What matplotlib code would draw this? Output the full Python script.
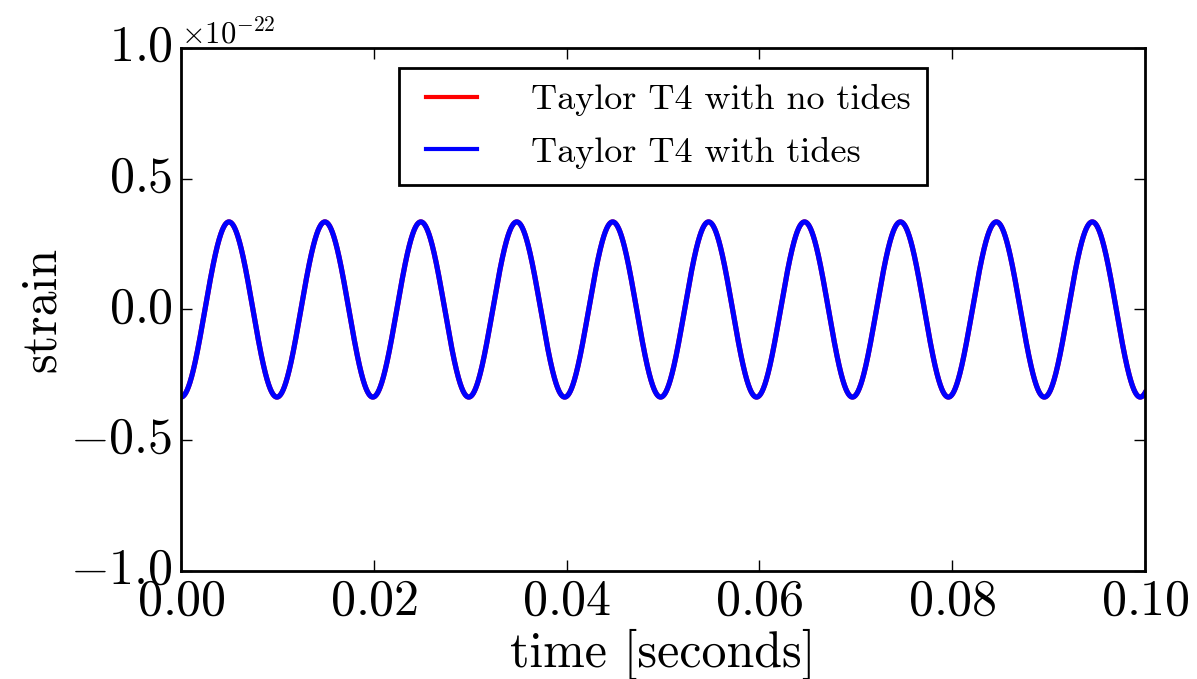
import numpy as np
import matplotlib
matplotlib.use("Agg")
import matplotlib.pyplot as plt
from matplotlib.ticker import ScalarFormatter

# values
amplitude = 0.335e-22      # peak strain
frequency = 100.5          # Hz, ~10 cycles in 0.1 s
t_start, t_end = 0.0, 0.1
n_samples = 4000
labels = ["Taylor T4 with no tides", "Taylor T4 with tides"]
colors = ["red", "blue"]

t = np.linspace(t_start, t_end, n_samples)
h_notides = -amplitude * np.cos(2 * np.pi * frequency * t)
h_tides = -amplitude * np.cos(2 * np.pi * frequency * t)

plt.style.use("classic")
plt.rcParams["font.family"] = "serif"
plt.rcParams["font.serif"] = ["cmr10"]
plt.rcParams["mathtext.fontset"] = "cm"
plt.rcParams["axes.formatter.use_mathtext"] = True

fig = plt.figure(figsize=(11.97, 6.79), dpi=100)
ax = fig.add_axes([0.1512, 0.1591, 0.8054, 0.7702])
ax.plot(t, h_notides, color=colors[0], lw=3.7, label=labels[0])
ax.plot(t, h_tides, color=colors[1], lw=3.7, label=labels[1])

ax.set_xlim(0, 0.1)
ax.set_ylim(-1e-22, 1e-22)
ax.set_xticks(np.arange(0, 0.101, 0.02))
ax.set_yticks(np.arange(-1e-22, 1.01e-22, 0.5e-22))
fmt = ScalarFormatter(useMathText=True)
fmt.set_powerlimits((-3, 3))
ax.yaxis.set_major_formatter(fmt)
ax.xaxis.set_major_formatter(plt.FuncFormatter(lambda v, p: r"$%.2f$" % v))
ax.tick_params(labelsize=36, length=8, width=1, pad=6, direction="in")
ax.yaxis.get_offset_text().set_fontsize(22)
for s in ax.spines.values():
    s.set_linewidth(2)

ax.set_xlabel("time [seconds]", fontsize=36, labelpad=3)
ax.set_ylabel("strain", fontsize=36, labelpad=4)

leg = ax.legend(loc="upper center", fontsize=26, frameon=True, fancybox=False,
                handlelength=2.0, handletextpad=1.2, borderpad=0.45,
                labelspacing=0.55, borderaxespad=0,
                bbox_to_anchor=(0.5, 0.962))
leg.get_frame().set_linewidth(2)
leg.get_frame().set_edgecolor("black")
for line in leg.get_lines():
    line.set_linewidth(3)

fig.savefig("out.png", dpi=100)
